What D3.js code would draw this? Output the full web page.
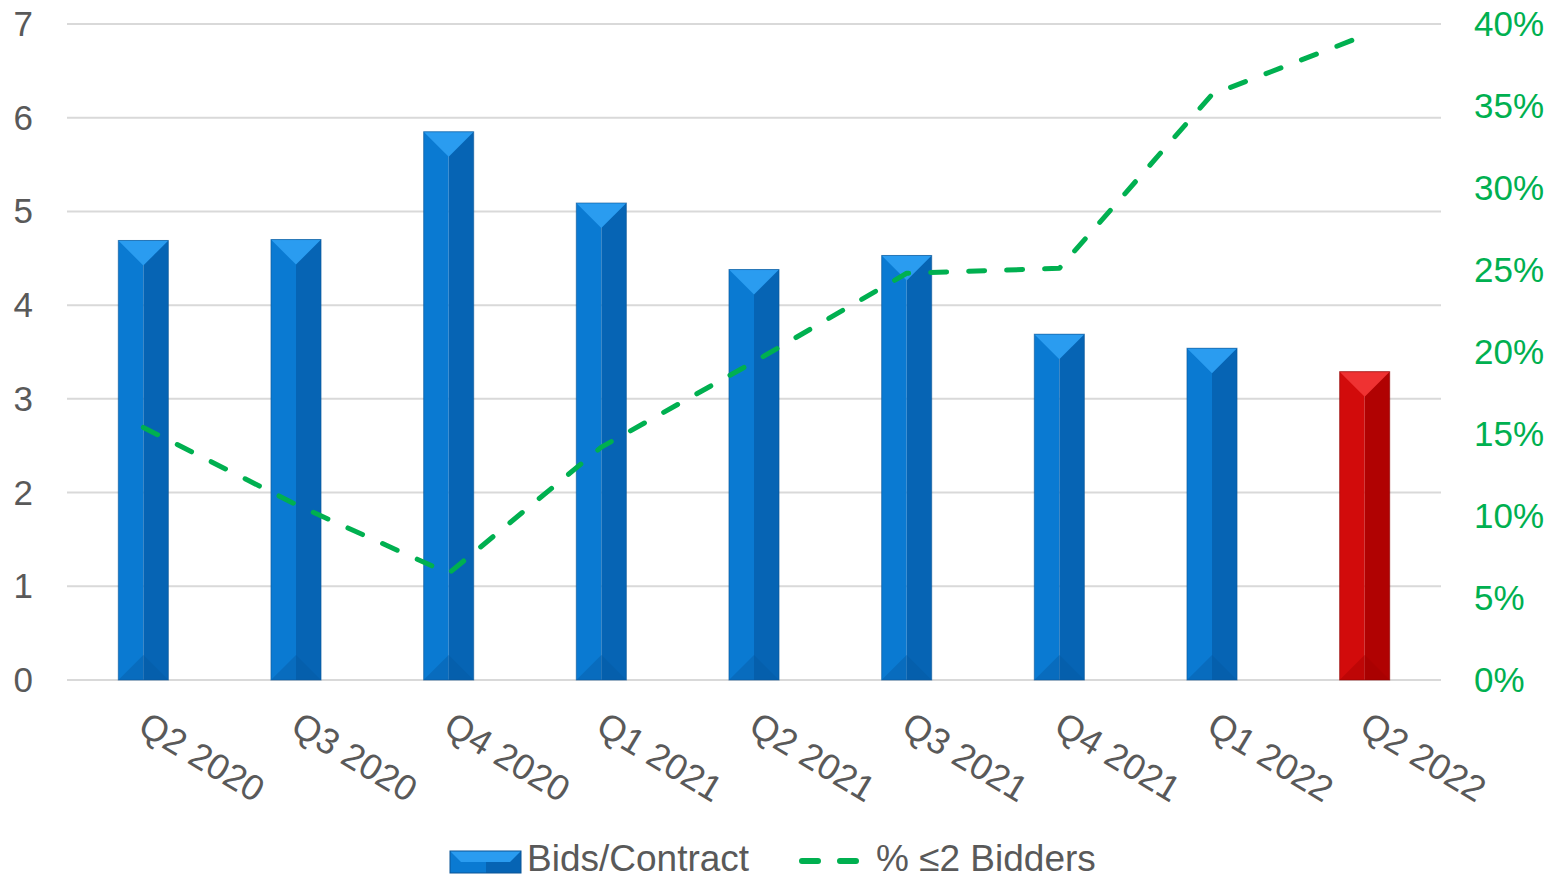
<!DOCTYPE html>
<html>
<head>
<meta charset="utf-8">
<script src="https://cdn.jsdelivr.net/npm/d3@7"></script>
<style>
  body { margin: 0; background: #fff; }
  svg { display: block; font-family: "Liberation Sans", Arial, sans-serif; }
</style>
</head>
<body>
<svg id="chart" width="1565" height="879"></svg>
<script>
// data
const quarters = ["Q2 2020", "Q3 2020", "Q4 2020", "Q1 2021", "Q2 2021", "Q3 2021", "Q4 2021", "Q1 2022", "Q2 2022"];
const bidsPerContract = [4.69, 4.70, 5.85, 5.09, 4.38, 4.53, 3.69, 3.54, 3.29];
const pctTwoOrLess = [0.154, 0.107, 0.065, 0.142, 0.194, 0.248, 0.251, 0.357, 0.393];
const leftTicks = [0, 1, 2, 3, 4, 5, 6, 7];
const rightTicks = [0, 0.05, 0.10, 0.15, 0.20, 0.25, 0.30, 0.35, 0.40];

const margin = { top: 24, right: 124, bottom: 199, left: 67 };
const W = 1565, H = 879;
const width = W - margin.left - margin.right;
const height = H - margin.top - margin.bottom;

const svg = d3.select("#chart");
const g = svg.append("g").attr("transform", `translate(${margin.left},${margin.top})`);

const x = d3.scaleBand().domain(quarters).range([0, width]).paddingInner(0.672).paddingOuter(0.336);
const y = d3.scaleLinear().domain([0, 7]).range([height, 0]);
const y2 = d3.scaleLinear().domain([0, 0.40]).range([height, 0]);

// gridlines
g.selectAll(".grid").data(leftTicks).enter().append("line")
    .attr("x1", 0).attr("x2", width)
    .attr("y1", d => y(d)).attr("y2", d => y(d))
    .attr("stroke", "#d9d9d9").attr("stroke-width", 2);

// left axis labels
g.selectAll(".ltick").data(leftTicks).enter().append("text")
    .attr("x", -34).attr("y", d => y(d) + 12)
    .attr("text-anchor", "end")
    .attr("font-size", 35).attr("fill", "#595959")
    .text(d => d);

// right axis labels
g.selectAll(".rtick").data(rightTicks).enter().append("text")
    .attr("x", width + 33).attr("y", d => y2(d) + 12)
    .attr("text-anchor", "start")
    .attr("font-size", 35).attr("fill", "#00b050")
    .text(d => d3.format(".0%")(d));

// bars with bevel look
const palettes = {
    blue: { left: "#0a7ad2", right: "#0664b4", top: "#2a9cf0", bottom: "#0558a0", edge: "#0a5596" },
    red: { left: "#d20b0b", right: "#b00202", top: "#ef3232", bottom: "#a00000", edge: "#8c0000" }
};

bidsPerContract.forEach((v, i) => {
    const p = i === quarters.length - 1 ? palettes.red : palettes.blue;
    const bx = x(quarters[i]), bw = x.bandwidth();
    const by = y(v), bh = y(0) - y(v);
    const bev = bw / 2;
    const bar = g.append("g");
    bar.append("rect").attr("x", bx).attr("y", by).attr("width", bw / 2).attr("height", bh).attr("fill", p.left);
    bar.append("rect").attr("x", bx + bw / 2).attr("y", by).attr("width", bw / 2).attr("height", bh).attr("fill", p.right);
    // top bevel
    bar.append("path")
        .attr("d", `M${bx},${by} L${bx + bw},${by} L${bx + bw / 2},${by + Math.min(bev, bh / 2)} Z`)
        .attr("fill", p.top);
    // bottom bevel
    bar.append("path")
        .attr("d", `M${bx},${y(0)} L${bx + bw},${y(0)} L${bx + bw / 2},${y(0) - Math.min(bev, bh / 2)} Z`)
        .attr("fill", p.bottom).attr("opacity", 0.4);
    bar.append("rect").attr("x", bx).attr("y", by).attr("width", bw).attr("height", bh)
        .attr("fill", "none").attr("stroke", p.edge).attr("stroke-width", 1).attr("opacity", 0.6);
});

// dashed line
const line = d3.line()
    .x((d, i) => x(quarters[i]) + x.bandwidth() / 2)
    .y(d => y2(d));

g.append("path")
    .datum(pctTwoOrLess)
    .attr("d", line)
    .attr("fill", "none")
    .attr("stroke", "#00b050")
    .attr("stroke-width", 5)
    .attr("stroke-linecap", "round")
    .attr("stroke-linejoin", "round")
    .attr("stroke-dasharray", "16,22");

// x labels, rotated
g.selectAll(".xlab").data(quarters).enter().append("text")
    .attr("transform", d => `translate(${x(d) + x.bandwidth() / 2 - 7},${height + 52}) rotate(31)`)
    .attr("text-anchor", "start")
    .attr("font-size", 36).attr("fill", "#595959")
    .text(d => d);

// legend
const leg = svg.append("g");
const lg = leg.append("g").attr("transform", "translate(450,851)");
lg.append("rect").attr("width", 36).attr("height", 22).attr("fill", palettes.blue.left);
lg.append("rect").attr("x", 36).attr("width", 35).attr("height", 22).attr("fill", palettes.blue.right);
lg.append("path").attr("d", "M0,0 L71,0 L60,11 L11,11 Z").attr("fill", palettes.blue.top);
lg.append("rect").attr("width", 71).attr("height", 22).attr("fill", "none").attr("stroke", palettes.blue.edge).attr("stroke-width", 1);
leg.append("text").attr("x", 527).attr("y", 871).attr("font-size", 37).attr("fill", "#595959").text("Bids/Contract");

leg.append("line").attr("x1", 802).attr("x2", 862).attr("y1", 861).attr("y2", 861)
    .attr("stroke", "#00b050").attr("stroke-width", 6).attr("stroke-linecap", "round")
    .attr("stroke-dasharray", "16,22");
leg.append("text").attr("x", 876).attr("y", 871).attr("font-size", 37).attr("fill", "#595959").text("% ≤2 Bidders");
</script>
</body>
</html>
